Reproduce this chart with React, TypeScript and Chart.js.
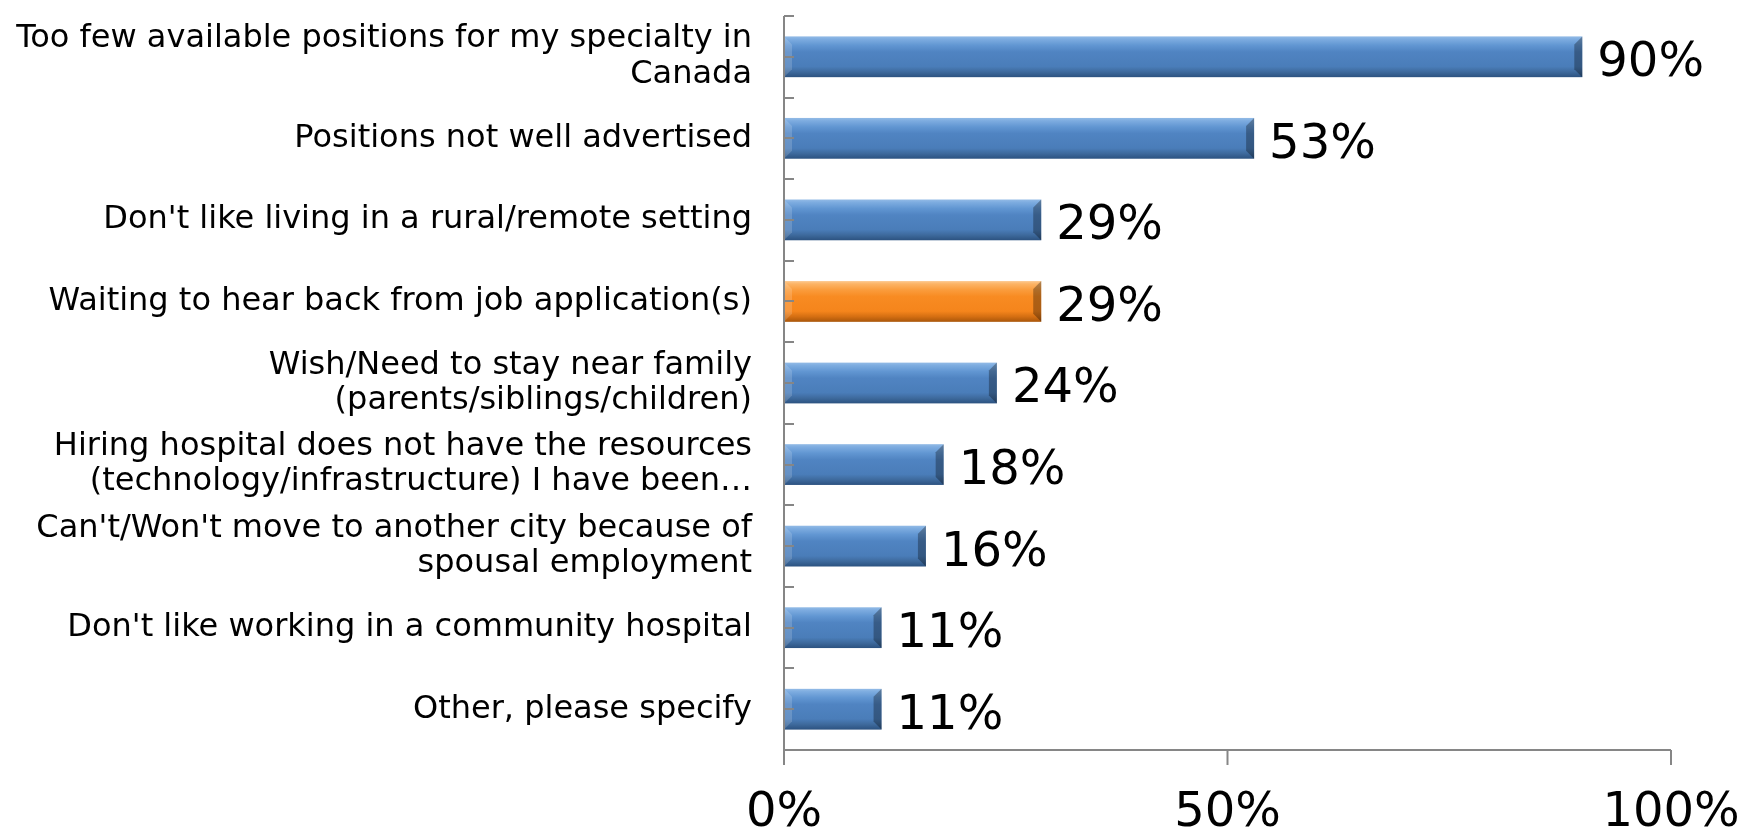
import React, { useEffect, useRef } from "react";
import { Chart, registerables } from "chart.js";

Chart.register(...registerables);

const categories: string[][] = [
  ["Too few available positions for my specialty in", "Canada"],
  ["Positions not well advertised"],
  ["Don't like living in a rural/remote setting"],
  ["Waiting to hear back from job application(s)"],
  ["Wish/Need to stay near family", "(parents/siblings/children)"],
  ["Hiring hospital does not have the resources", "(technology/infrastructure) I have been…"],
  ["Can't/Won't move to another city because of", "spousal employment"],
  ["Don't like working in a community hospital"],
  ["Other, please specify"],
];
const values = [90, 53, 29, 29, 24, 18, 16, 11, 11];
const highlightIndex = [3];
const xTickValues = [0, 50, 100];

const FONT = '"DejaVu Sans", Verdana, sans-serif';
const AXIS = "#868686";

const blueStops: [number, string][] = [
  [0, "#93BBE6"], [0.07, "#7DACE0"], [0.22, "#6196D2"], [0.38, "#5084C2"],
  [0.74, "#4A7DB9"], [0.87, "#3E6A9D"], [1, "#2C5280"],
];
const orangeStops: [number, string][] = [
  [0, "#FDC990"], [0.07, "#FCB466"], [0.22, "#FA9C3C"], [0.38, "#F88B22"],
  [0.74, "#F5851C"], [0.87, "#D56F12"], [1, "#A9560A"],
];

const barPlugin = {
  id: "bevelBars",
  afterDatasetsDraw(chart: any) {
    const ctx = chart.ctx as CanvasRenderingContext2D;
    const meta = chart.getDatasetMeta(0);
    meta.data.forEach((el: any, i: number) => {
      const p = el.getProps(["x", "y", "base", "height"], true);
      const l = Math.min(p.base, p.x);
      const r = Math.max(p.base, p.x);
      const t = p.y - p.height / 2;
      const b = p.y + p.height / 2;
      const stops = highlightIndex.includes(i) ? orangeStops : blueStops;
      const g = ctx.createLinearGradient(0, t, 0, b);
      stops.forEach(([o, c]) => g.addColorStop(o, c));
      ctx.save();
      ctx.fillStyle = g;
      ctx.fillRect(l, t, r - l, b - t);
      const bv = 8;
      const poly = (pts: number[][], fill: string) => {
        ctx.beginPath();
        ctx.moveTo(pts[0][0], pts[0][1]);
        for (let k = 1; k < pts.length; k++) ctx.lineTo(pts[k][0], pts[k][1]);
        ctx.closePath();
        ctx.fillStyle = fill;
        ctx.fill();
      };
      poly([[l, t], [l + bv, t + bv], [l + bv, b - bv], [l, b]], "rgba(255,255,255,0.16)");
      poly([[r, t], [r - bv, t + bv], [r - bv, b - bv], [r, b]], "rgba(0,0,0,0.3)");
      ctx.restore();

      // data label
      ctx.save();
      ctx.font = `48px ${FONT}`;
      ctx.fillStyle = "#000";
      ctx.textAlign = "left";
      ctx.textBaseline = "middle";
      ctx.fillText(`${values[i]}%`, r + 15, p.y + 7);
      ctx.restore();
    });
  },
  afterDraw(chart: any) {
    const ctx = chart.ctx as CanvasRenderingContext2D;
    const ys = chart.scales.y;
    const xs = chart.scales.x;
    const area = chart.chartArea;
    ctx.save();
    ctx.strokeStyle = AXIS;
    ctx.lineWidth = 2;
    ctx.beginPath();
    ctx.moveTo(area.left, ys.getPixelForValue(-0.5));
    ctx.lineTo(area.left, area.bottom);
    ctx.stroke();
    for (let k = 0; k < categories.length * 2; k++) {
      const yy = Math.round(ys.getPixelForValue(k / 2 - 0.5));
      ctx.beginPath();
      ctx.moveTo(area.left, yy);
      ctx.lineTo(area.left + 10, yy);
      ctx.stroke();
    }
    ctx.beginPath();
    ctx.moveTo(area.left, area.bottom);
    ctx.lineTo(area.right, area.bottom);
    ctx.stroke();
    xTickValues.forEach((v) => {
      const xx = xs.getPixelForValue(v);
      ctx.beginPath();
      ctx.moveTo(xx, area.bottom);
      ctx.lineTo(xx, area.bottom + 15);
      ctx.stroke();
    });
    ctx.restore();
  },
};

export default function App() {
  const ref = useRef<HTMLCanvasElement | null>(null);
  useEffect(() => {
    document.body.style.margin = "0";
    const c = ref.current!;
    const chart = new Chart(c, {
      type: "bar",
      data: {
        labels: categories,
        datasets: [
          {
            data: values,
            backgroundColor: "rgba(0,0,0,0)",
            borderWidth: 0,
            barPercentage: 0.5,
            categoryPercentage: 1,
          },
        ],
      },
      options: {
        indexAxis: "y",
        animation: false,
        responsive: false,
        devicePixelRatio: 1,
        layout: { padding: { top: 16, right: 76, left: 0, bottom: 0 } },
        plugins: { legend: { display: false }, tooltip: { enabled: false } },
        scales: {
          x: {
            min: 0,
            max: 100,
            afterBuildTicks: (scale: any) => {
              scale.ticks = xTickValues.map((v) => ({ value: v }));
            },
            ticks: {
              callback: (v: any) => `${v}%`,
              font: { family: FONT, size: 48, lineHeight: 1.2 },
              color: "#000",
              padding: 35,
              maxRotation: 0,
            },
            grid: { display: false, drawTicks: false },
            border: { display: false },
            afterFit: (scale: any) => {
              scale.height = 81;
              scale.paddingLeft = 0;
              scale.paddingRight = 0;
            },
          },
          y: {
            ticks: {
              font: { family: FONT, size: 32, lineHeight: 1.1 },
              color: "#000",
              padding: 32,
              autoSkip: false,
            },
            grid: { display: false, drawTicks: false },
            border: { display: false },
            afterFit: (scale: any) => {
              scale.width = 784;
              scale.paddingTop = 0;
              scale.paddingBottom = 0;
            },
          },
        },
      },
      plugins: [barPlugin],
    });
    return () => chart.destroy();
  }, []);
  return (
    <div style={{ position: "fixed", left: 0, top: 0, width: 1747, height: 831, background: "#fff" }}>
      <canvas ref={ref} width={1747} height={831} style={{ width: 1747, height: 831 }} />
    </div>
  );
}
